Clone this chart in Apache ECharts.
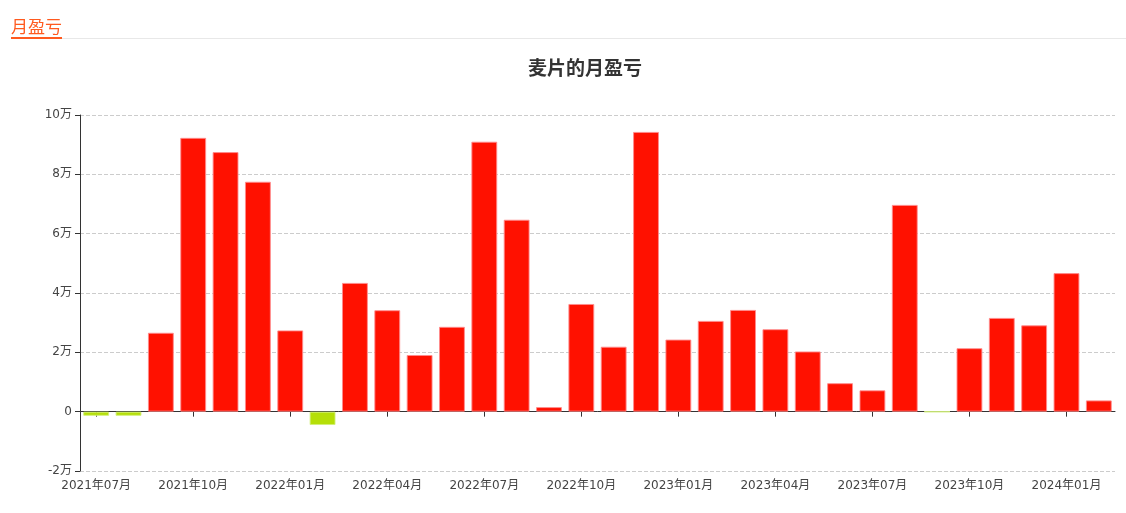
<!DOCTYPE html>
<html>
<head>
<meta charset="utf-8">
<script src="https://cdn.jsdelivr.net/npm/echarts@6/dist/echarts.min.js"></script>
<style>
html,body{margin:0;padding:0;background:#fff;}
#hdr{position:absolute;left:11px;top:15px;font-family:"Noto Sans CJK SC",sans-serif;font-size:17px;color:#ff5a1f;line-height:21px;padding-bottom:1px;border-bottom:2px solid #ff5a1f;}
#sep{position:absolute;left:62px;right:0;top:38px;height:1px;background:#e8e8e8;}
#chart{position:absolute;left:0;top:0;width:1126px;height:513px;}
</style>
</head>
<body>
<div id="chart"></div>
<div id="hdr">月盈亏</div>
<div id="sep"></div>
<script>
const months = ['2021年07月','2021年08月','2021年09月','2021年10月','2021年11月','2021年12月',
  '2022年01月','2022年02月','2022年03月','2022年04月','2022年05月','2022年06月',
  '2022年07月','2022年08月','2022年09月','2022年10月','2022年11月','2022年12月',
  '2023年01月','2023年02月','2023年03月','2023年04月','2023年05月','2023年06月',
  '2023年07月','2023年08月','2023年09月','2023年10月','2023年11月','2023年12月',
  '2024年01月','2024年02月'];
const profit = [-1400,-1400,26600,92300,87500,77500,
  27400,-4500,43400,34200,19100,28600,
  91000,64700,1550,36300,21900,94300,
  24300,30600,34300,27800,20300,9600,
  7200,69700,-60,21400,31600,29100,
  46700,3800];
const yTicks = {min:-20000, max:100000, interval:20000};
const titleText = '麦片的月盈亏';

const chart = echarts.init(document.getElementById('chart'));
const font = '"DejaVu Sans", "Noto Sans CJK SC", sans-serif';
chart.setOption({
  animation:false,
  title:{text:titleText,left:580,textAlign:'center',top:53,
    textStyle:{fontSize:19,fontWeight:'bold',color:'#333',fontFamily:'"Noto Sans CJK SC", sans-serif'}},
  grid:{left:80,right:11,top:115,bottom:42},
  xAxis:[{
    type:'category',data:months,position:'bottom',
    axisLine:{show:false,onZero:false},axisTick:{show:false},
    axisLabel:{interval:2,color:'#444',fontSize:12,fontFamily:font,margin:9}
  },{
    type:'category',data:months,position:'bottom',
    axisLine:{show:true,onZero:true,lineStyle:{color:'#333'}},
    axisTick:{show:true,interval:2,alignWithLabel:true,lineStyle:{color:'#333'}},
    axisLabel:{show:false}
  }],
  yAxis:{
    type:'value',min:yTicks.min,max:yTicks.max,interval:yTicks.interval,
    axisLine:{show:true,lineStyle:{color:'#333'}},
    axisTick:{show:true,lineStyle:{color:'#333'}},
    axisLabel:{color:'#444',fontSize:12,fontFamily:font,padding:[2,0,0,0],
      formatter:v=> v===0 ? '0' : (v/10000)+'万'},
    splitLine:{lineStyle:{type:'dashed',color:'#ccc'}}
  },
  series:[{
    type:'bar',xAxisIndex:0,barWidth:'80%',
    data:profit.map(v=>({value:v,itemStyle:{
      color: v>=0 ? '#ff1100' : '#b5df08',
      borderColor: v>=0 ? 'rgba(255,140,140,0.9)' : 'rgba(210,240,120,0.9)',
      borderWidth:1}}))
  }]
});
</script>
</body>
</html>
